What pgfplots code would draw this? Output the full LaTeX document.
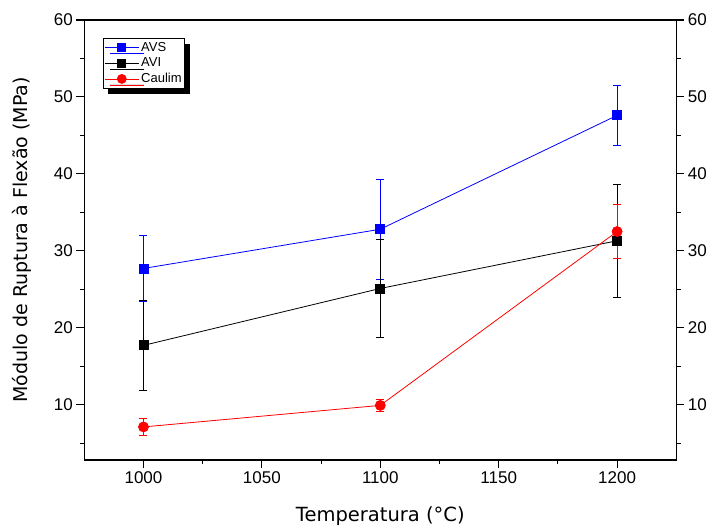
\documentclass[border=0pt]{standalone}
\usepackage{pgfplots}
\pgfplotsset{compat=1.18}
\usepackage{fontspec}
\setmainfont{Liberation Sans}
\newfontfamily\labfont{DejaVu Sans}
\definecolor{avsBlue}{RGB}{0,0,255}
\definecolor{caulimRed}{RGB}{255,0,0}

\pgfplotsset{
  common/.style={
    scale only axis,
    width=592pt, height=440pt,
    xmin=975, xmax=1225,
    ymin=2.8, ymax=60,
    xtick={1000,1050,...,1200},
    minor xtick={1025,1075,1125,1175},
    ytick={10,20,...,60},
    minor ytick={5,15,...,55},
    tick align=outside,
    major tick length=8pt,
    minor tick length=4.5pt,
    every tick/.style={line width=1.1pt, black},
    every minor tick/.style={line width=1.1pt, black},
    axis line style={line width=1.2pt},
    /pgf/number format/1000 sep={},
    /pgf/number format/assume math mode=true,
    tick label style={font=\fontsize{17}{20}\selectfont},
  },
  ebar/.style={
    error bars/.cd, y dir=both, y explicit,
    error bar style={line width=0.8pt, #1},
    error mark options={rotate=90, mark size=4pt, line width=0.8pt, #1},
  },
}

\begin{document}
\begin{tikzpicture}
\useasboundingbox (-84.3pt,-70pt) rectangle (628.7pt,460pt);
\begin{axis}[
  common,
  xtick pos=bottom,
  ytick pos=left,
  xlabel={Temperatura (°C)},
  ylabel={Módulo de Ruptura à Flexão (MPa)},
  xlabel style={font=\labfont\fontsize{19.5}{22}\selectfont, at={(axis description cs:0.5,-0.127)}, anchor=center},
  ylabel style={font=\labfont\fontsize{19}{22}\selectfont, at={(axis description cs:-0.105,0.5)}, anchor=center},
  legend image code/.code={\draw[mark repeat=2,mark phase=2] plot coordinates {(0pt,0pt) (17pt,0pt) (34pt,0pt)};},
  legend style={at={(rel axis cs:0.0316,0.959)}, anchor=north west,
    cells={anchor=west},
    font=\fontsize{13}{15}\selectfont, draw=black, line width=0.8pt, fill=white,
    inner xsep=1pt, inner ysep=2pt, row sep=1pt,
    preaction={fill=black, transform canvas={xshift=5pt, yshift=-6pt}}},
]
% error bars (not in legend)
\addplot[avsBlue, draw=none, mark=none, forget plot, ebar=avsBlue]
  coordinates {(1000,27.7) +- (0,4.3) (1100,32.8) +- (0,6.5) (1200,47.6) +- (0,3.9)};
\addplot[black, draw=none, mark=none, forget plot, ebar=black]
  coordinates {(1000,17.7) +- (0,5.85) (1100,25.1) +- (0,6.35) (1200,31.3) +- (0,7.3)};
\addplot[caulimRed, draw=none, mark=none, forget plot, ebar=caulimRed]
  coordinates {(1000,7.1) +- (0,1.1) (1100,9.9) +- (0,0.8) (1200,32.5) +- (0,3.5)};
% lines and markers
\addplot[avsBlue, line width=0.8pt, mark=square*, mark size=4.5pt, forget plot]
  coordinates {(1000,27.7) (1100,32.8) (1200,47.6)};
\addplot[black, line width=0.8pt, mark=square*, mark size=4.5pt, forget plot]
  coordinates {(1000,17.7) (1100,25.1) (1200,31.3)};
\addplot[caulimRed, line width=0.8pt, mark=*, mark size=5pt, forget plot]
  coordinates {(1000,7.1) (1100,9.9) (1200,32.5)};
\addlegendimage{avsBlue, line width=0.8pt, mark=square*, mark size=4pt}
\addlegendentry{AVS}
\addlegendimage{black, line width=0.8pt, mark=square*, mark size=4pt}
\addlegendentry{AVI}
\addlegendimage{caulimRed, line width=0.8pt, mark=*, mark size=4.5pt}
\addlegendentry{Caulim}
\end{axis}
\begin{axis}[
  common,
  axis x line=none,
  axis y line*=right,
  ytick pos=right,
  yticklabel pos=right,
]
\end{axis}
\end{tikzpicture}
\end{document}
